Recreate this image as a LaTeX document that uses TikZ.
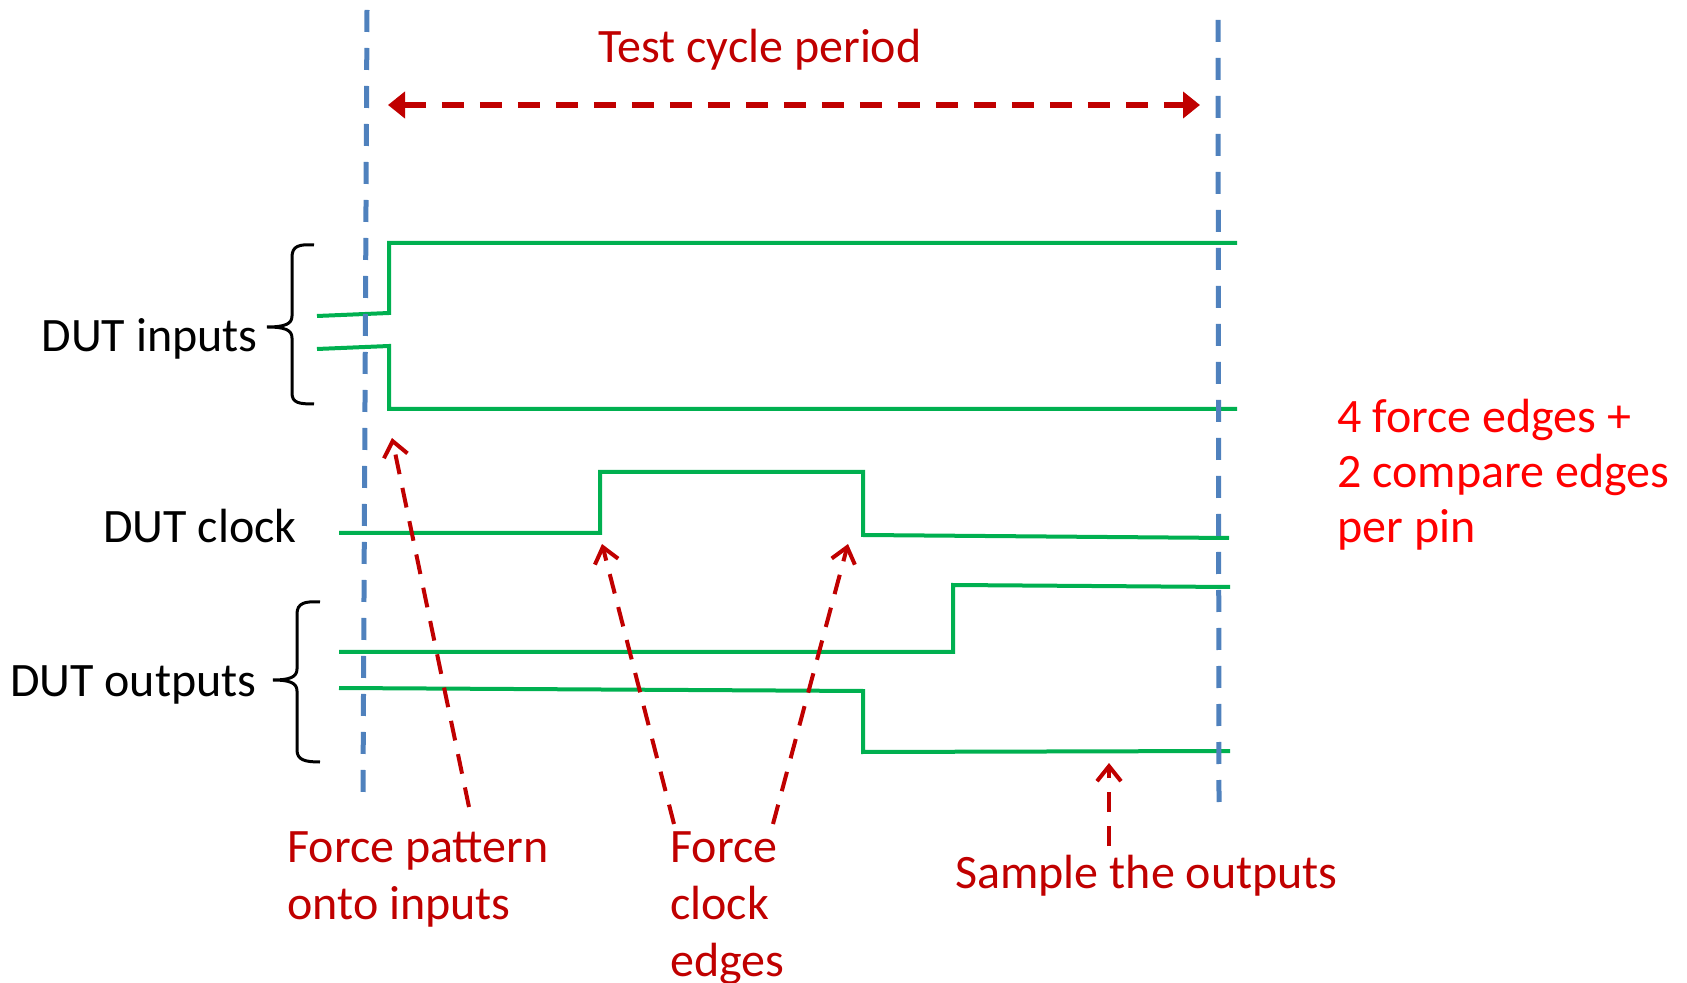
\documentclass[tikz,border=0pt]{standalone}
\usepackage{fontspec}
\setmainfont{Carlito}
\usetikzlibrary{arrows.meta}
\definecolor{sig}{RGB}{0,176,80}
\definecolor{cyc}{RGB}{79,129,189}
\definecolor{dred}{RGB}{192,0,0}
\definecolor{bred}{RGB}{255,0,0}
\begin{document}
\begin{tikzpicture}[x=0.5pt,y=-0.5pt,
  trace/.style={draw=sig,line width=2pt,line join=miter},
  cycline/.style={draw=cyc,line width=2.5pt,dash pattern=on 11pt off 8pt},
  period/.style={draw=dred,line width=3pt,dash pattern=on 11pt off 8pt,
     {Triangle[length=8.5pt,width=13pt]}-{Triangle[length=8.5pt,width=13pt]}},
  pointer/.style={draw=dred,line width=2pt,dash pattern=on 10pt off 7pt,
     -{Straight Barb[length=7.5pt,width=12pt]}},
  brace/.style={draw=black,line width=1.5pt},
  lbl/.style={inner sep=0pt,font=\fontsize{24}{29}\selectfont},
  note/.style={inner sep=0pt,text=dred,align=left,font=\fontsize{24}{28.5}\selectfont},
]
\useasboundingbox (0,0) rectangle (1687,983);

% cycle boundaries
\coordinate (c1t) at (367,10);
\coordinate (c1b) at (363,793);
\coordinate (c2t) at (1218,20);
\coordinate (c2b) at (1219,802);

% traces
\draw[trace] (317,316) -- (389,313) -- (389,243) -- (1237,243);
\draw[trace] (317,349) -- (389,346) -- (389,409) -- (1237,409);
\draw[trace] (339,533) -- (600,533) -- (600,472) -- (863,472) -- (863,535) -- (1229,538);
\draw[trace] (339,652) -- (953,652) -- (953,585) -- (1230,587);
\draw[trace] (339,688) -- (863,691) -- (863,752) -- (1230,751);

\draw[cycline] (c1t) -- (c1b);
\draw[cycline] (c2t) -- (c2b);

% braces
\draw[brace] (314,245) .. controls (299,244) and (292,246) .. (292,257) -- (292,316)
  .. controls (292,324) and (285,327) .. (267,327)
  .. controls (285,327) and (292,330) .. (292,338) -- (292,393)
  .. controls (292,403) and (299,404) .. (314,404);
\draw[brace] (320,602) .. controls (305,601) and (297,603) .. (297,614) -- (297,669)
  .. controls (297,677) and (290,680) .. (273,680)
  .. controls (290,680) and (297,683) .. (297,691) -- (297,750)
  .. controls (297,760) and (305,762) .. (320,762);

% labels
\node[lbl,anchor=base east] (lin) at (258,352) {DUT inputs};
\node[lbl,anchor=base east] (lclk) at (297,543) {DUT clock};
\node[lbl,anchor=base east] (lout) at (257,697) {DUT outputs};

\node[inner sep=0pt,text=dred,font=\fontsize{24}{28}\selectfont,anchor=base] (title) at (760,63) {Test cycle period};
\coordinate (pl) at (388,105);
\coordinate (pr) at (1200,105);
\draw[period] (pl) -- (pr);

% multi-line nodes: base anchor = baseline of last line
\node[note,anchor=base west] (fpi) at (287,919) {Force pattern\\onto inputs};
\node[note,anchor=base west] (fce) at (670,976) {Force\\clock\\edges};
\node[note,anchor=base west] (sto) at (955,888) {Sample the outputs};
\node[inner sep=0pt,text=bred,align=left,font=\fontsize{24}{27.5}\selectfont,anchor=base west] (edges) at (1337,543) {4 force edges +\\2 compare edges\\per pin};

% pointers
\coordinate (a1s) at (469,807);
\coordinate (a1e) at (392,438);
\coordinate (a2s) at (674,824);
\coordinate (a2e) at (602,544);
\coordinate (a3s) at (773,824);
\coordinate (a3e) at (848,544);
\coordinate (a4s) at (1109,846);
\coordinate (a4e) at (1109,763);
\draw[pointer] (a1s) -- (a1e);
\draw[pointer] (a2s) -- (a2e);
\draw[pointer] (a3s) -- (a3e);
\draw[pointer] (a4s) -- (a4e);
\end{tikzpicture}
\end{document}
